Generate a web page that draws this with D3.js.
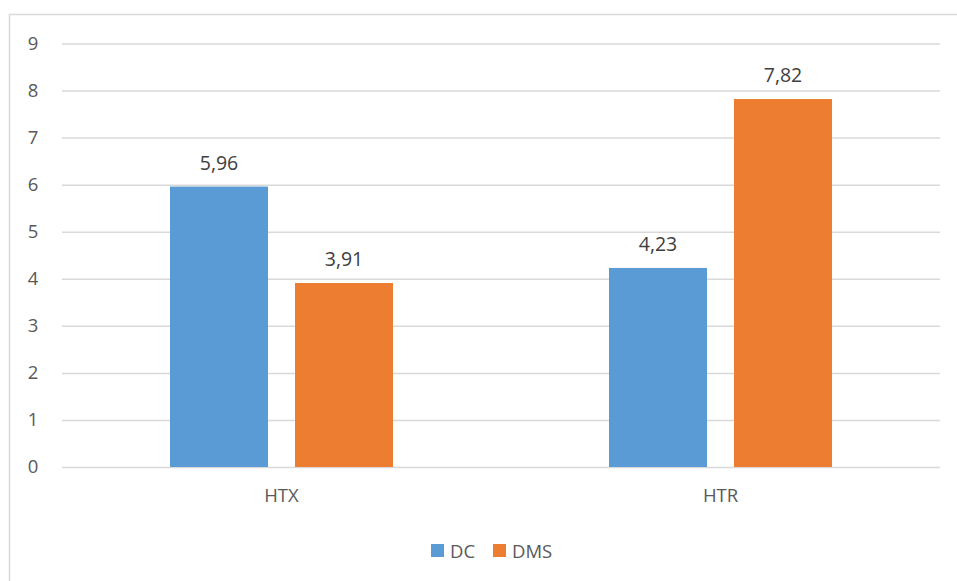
<!DOCTYPE html>
<html><head><meta charset="utf-8">
<script src="https://cdn.jsdelivr.net/npm/d3@7/dist/d3.min.js"></script>
<style>body{margin:0;background:#fff}svg{display:block}text{font-family:"Open Sans",sans-serif}</style>
</head><body><svg id="c" width="957" height="581"></svg>
<script>
const categories = ["HTX", "HTR"];
const seriesNames = ["DC", "DMS"];
const dcValues = [5.96, 4.23];
const dmsValues = [3.91, 7.82];
const yTicks = [0,1,2,3,4,5,6,7,8,9];
const colors = ["#5B9BD5", "#ED7D31"];

const svg = d3.select("#c");
svg.append("rect").attr("x",9.5).attr("y",14.5).attr("width",960).attr("height",600)
  .attr("fill","none").attr("stroke","#d9d9d9").attr("stroke-width",1.5);

const L=62, R=940, T=43.5, B=467;
const y = d3.scaleLinear().domain([0,9]).range([B,T]);
const x0 = d3.scaleBand().domain(categories).range([L,R]).paddingInner(0).paddingOuter(0);
const x1 = d3.scaleBand().domain(seriesNames).range([0,223]).paddingInner(0.216).paddingOuter(0);

const ax = d3.axisLeft(y).tickValues(yTicks).tickSize(-(R-L)).tickPadding(22).tickFormat(d3.format("d"));
const g = svg.append("g").attr("transform",`translate(${L},0)`).call(ax);
g.select(".domain").remove();
g.selectAll(".tick line").attr("stroke","#d9d9d9").attr("stroke-width",1.5);
g.selectAll(".tick text").attr("fill","#595959").style("font-size","18.5px").attr("text-anchor","middle").attr("x",-29);

const data = categories.map((c,i)=>({cat:c, vals:[dcValues[i], dmsValues[i]]}));
const groups = svg.append("g").selectAll("g").data(data).join("g")
  .attr("transform",d=>`translate(${x0(d.cat)+x0.bandwidth()/2-111.5},0)`);
groups.selectAll("rect").data(d=>d.vals.map((v,j)=>({v,s:seriesNames[j],j}))).join("rect")
  .attr("x",d=>x1(d.s)).attr("width",x1.bandwidth())
  .attr("y",d=>y(d.v)).attr("height",d=>B-y(d.v)).attr("fill",d=>colors[d.j]);
groups.selectAll("text").data(d=>d.vals.map((v,j)=>({v,s:seriesNames[j],j}))).join("text")
  .attr("x",d=>x1(d.s)+x1.bandwidth()/2).attr("y",d=>y(d.v)-17)
  .attr("text-anchor","middle").attr("fill","#404040").style("font-size","19.5px")
  .text(d=>d3.format(".2f")(d.v).replace(".",","));

const xa = d3.axisBottom(x0).tickSize(0).tickPadding(22);
const gx = svg.append("g").attr("transform",`translate(0,${B})`).call(xa);
gx.select(".domain").remove();
gx.selectAll(".tick text").attr("fill","#595959").style("font-size","18.5px");

const leg = svg.append("g");
const lx=[431,493];
seriesNames.forEach((s,i)=>{
  leg.append("rect").attr("x",lx[i]).attr("y",544).attr("width",13).attr("height",13).attr("fill",colors[i]);
  leg.append("text").attr("x",lx[i]+19).attr("y",558).attr("fill","#595959").style("font-size","18.5px").text(s);
});
</script></body></html>
